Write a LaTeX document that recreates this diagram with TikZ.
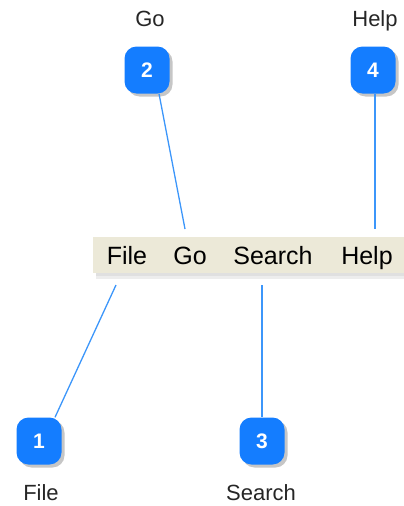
\documentclass[tikz,border=0pt]{standalone}
\usepackage{fontspec}
\setmainfont{Liberation Sans}
\usetikzlibrary{shadows}
\definecolor{badgeblue}{RGB}{20,125,255}
\definecolor{linkblue}{RGB}{60,150,250}
\definecolor{menubg}{RGB}{236,233,216}
\tikzset{
  badge/.style={fill=badgeblue, rounded corners=12pt, minimum width=45pt, minimum height=47pt,
    text=white, font=\fontsize{21}{21}\selectfont\bfseries, inner sep=0pt,
    drop shadow={opacity=0.45, shadow xshift=3pt, shadow yshift=-3pt}},
  lbl/.style={font=\fontsize{22}{22}\selectfont, text=black!85, inner sep=0pt, anchor=base},
  mitem/.style={font=\fontsize{25}{25}\selectfont, text=black, inner sep=0pt, anchor=base},
  link/.style={draw=linkblue, line width=1.3pt}
}
\begin{document}
\begin{tikzpicture}[x=1pt,y=-1pt]
\useasboundingbox (0,0) rectangle (404,506);
% menu bar
\fill[black, opacity=0.12] (96,271) rectangle (404,276);
\fill[black, opacity=0.07] (96,276) rectangle (404,279);
\node[fill=menubg, minimum width=311pt, minimum height=36pt, inner sep=0pt, anchor=north west] (bar) at (93,237) {};
\node[mitem] (mfile) at (127,264) {File};
\node[mitem] (mgo) at (190,264) {Go};
\node[mitem] (msearch) at (273,264) {Search};
\node[mitem] (mhelp) at (367,264) {Help};
\coordinate (t2) at (185,229);
\coordinate (t4) at (375,229);
\coordinate (b1) at (116,285);
\coordinate (b3) at (262,285);
% badges
\node[badge] (n2) at (147,70) {2};
\node[badge] (n4) at (373,70) {4};
\node[badge] (n1) at (39,441) {1};
\node[badge] (n3) at (262,441) {3};
% labels
\node[lbl] (l2) at (150,27) {Go};
\node[lbl] (l4) at (375,27) {Help};
\node[lbl] (l1) at (41,500) {File};
\node[lbl] (l3) at (261,500) {Search};
% connectors
\draw[link] ([xshift=12pt]n2.south) -- (t2);
\draw[link] (n4.south -| t4) -- (t4);
\draw[link] (b1) -- ([xshift=16pt]n1.north);
\draw[link] (b3) -- (n3.north);
\end{tikzpicture}
\end{document}
